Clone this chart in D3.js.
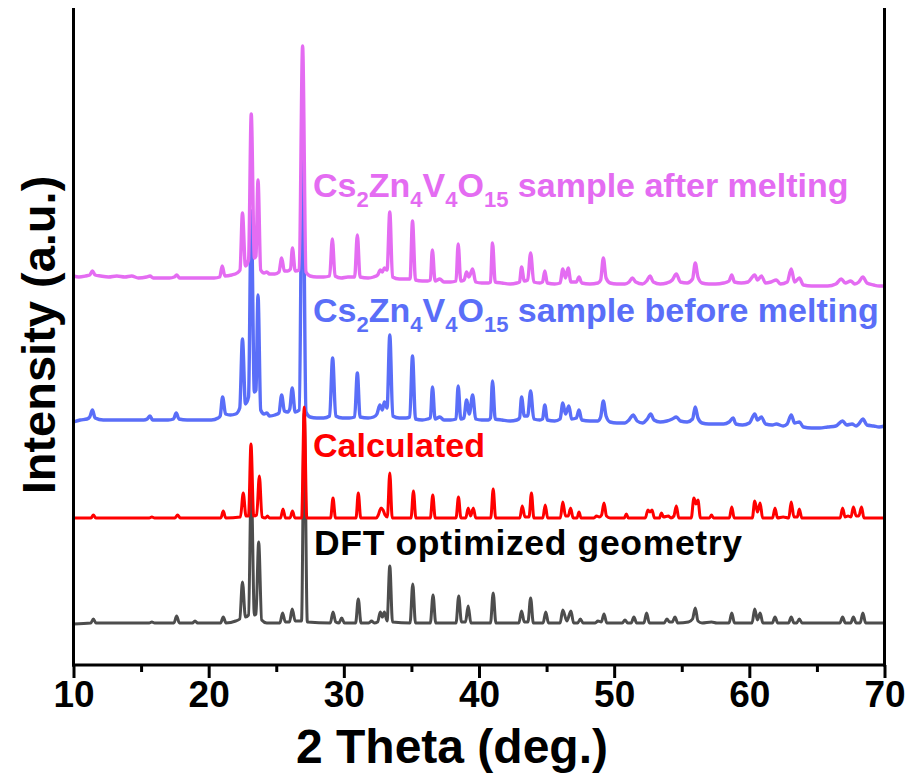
<!DOCTYPE html>
<html><head><meta charset="utf-8">
<script src="https://cdn.jsdelivr.net/npm/d3@7"></script>
<style>body{margin:0;background:#fff} svg{display:block}</style>
</head><body><svg id="c" width="913" height="781"></svg>
<script>
// ---------- data ----------
const xTicks = [10, 20, 30, 40, 50, 60, 70];
const xMinorTicks = [15, 25, 35, 45, 55, 65];
const seriesNames = ["after", "before", "calc", "dft"];
const seriesColors = ["#E46CF2", "#5A6EF8", "#FF0000", "#4D4D4D"];
const seriesOffsets = [385, 243, 147, 42];

const afterMelting = [
[10.0,4],[10.4,3],[10.9,4],[11.2,5],[11.4,9],[11.6,5],[12.0,4],[12.6,3],[13.2,4],[13.8,3],[14.3,4],[14.8,2],[15.4,3],[15.66,4],[15.9,2],[16.5,2],[17.1,2],[17.45,3],[17.63,5],[17.85,2],[18.5,2],[19.2,2],[19.8,2],[20.4,2],[20.82,3],[21.0,14],[21.2,4],[21.7,5],[22.1,7],[22.32,10],[22.5,67],[22.72,14],[22.95,20],[23.15,166],[23.38,22],[23.5,24],[23.65,100],[23.85,10],[24.1,7],[24.3,8],[24.5,6],[24.9,6],[25.2,8],[25.4,22],[25.6,9],[25.85,9],[26.05,11],[26.2,32],[26.4,9],[26.7,10],[26.95,234],[27.2,8],[27.5,4],[28.0,3],[28.5,3],[28.95,4],[29.15,41],[29.35,4],[29.8,2],[30.3,3],[30.8,3],[31.0,45],[31.2,3],[31.8,2],[32.2,3],[32.5,5],[32.7,10],[32.85,8],[33.0,12],[33.2,10],[33.4,68],[33.6,3],[34.1,1],[34.6,1],[34.9,1],[35.08,59],[35.3,0],[35.8,-1],[36.2,-1],[36.4,0],[36.55,30],[36.75,-1],[37.1,1],[37.4,-2],[37.9,-2],[38.3,-1],[38.46,36],[38.65,-1],[38.9,0],[39.08,8],[39.25,3],[39.53,11],[39.75,-2],[40.2,-3],[40.7,-3],[40.85,-2],[41.0,37],[41.2,-2],[41.7,-3],[42.3,-4],[42.8,-3],[43.0,-2],[43.15,13],[43.35,-1],[43.6,0],[43.82,27],[44.05,-2],[44.5,-3],[44.7,-2],[44.87,9],[45.05,-3],[45.6,-4],[46.0,-3],[46.2,11],[46.4,2],[46.6,12],[46.8,-2],[47.2,-2],[47.4,3],[47.6,-3],[48.2,-4],[48.8,-3],[49.0,0],[49.2,22],[49.4,2],[49.7,-3],[50.2,-4],[50.8,-4],[51.1,-2],[51.35,2],[51.6,-2],[52.1,-4],[52.4,-1],[52.65,4],[52.9,-2],[53.4,-4],[53.9,-3],[54.3,0],[54.6,6],[54.9,-2],[55.4,-3],[55.8,1],[56.0,17],[56.2,3],[56.5,-3],[57.0,-4],[57.5,-4],[58.1,-3],[58.5,-1],[58.7,5],[58.9,-2],[59.4,-3],[59.9,-2],[60.4,5],[60.6,0],[60.9,4],[61.2,-3],[61.6,-2],[62.0,0],[62.3,-4],[62.8,-2],[63.1,11],[63.35,-2],[63.7,2],[64.0,-5],[64.6,-6],[65.2,-6],[65.8,-6],[66.4,-4],[66.8,1],[67.1,-3],[67.5,-1],[67.8,-4],[68.1,-2],[68.4,3],[68.7,-3],[69.2,-5],[69.6,-6],[70.0,-6]
];

const beforeMelting = [
[10.0,0],[10.5,2],[11.0,3],[11.2,5],[11.4,12],[11.6,4],[12.2,2],[12.8,2],[13.4,2],[14.0,2],[14.6,2],[15.2,2],[15.45,3],[15.66,6],[15.85,2],[16.4,2],[17.0,2],[17.4,3],[17.6,9],[17.8,3],[18.4,2],[19.0,2],[19.6,2],[20.2,2],[20.7,4],[20.85,6],[21.03,25],[21.25,8],[21.6,7],[22.0,8],[22.3,14],[22.5,83],[22.72,18],[22.95,25],[23.15,211],[23.38,30],[23.5,32],[23.65,127],[23.85,12],[24.1,8],[24.3,9],[24.5,6],[24.9,7],[25.2,9],[25.4,27],[25.6,11],[25.85,10],[26.0,13],[26.18,34],[26.4,10],[26.7,12],[26.95,299],[27.2,10],[27.5,5],[28.0,4],[28.5,4],[28.95,6],[29.17,64],[29.4,6],[29.9,4],[30.4,4],[30.8,5],[31.0,49],[31.2,5],[31.8,4],[32.2,5],[32.45,8],[32.67,17],[32.85,12],[33.0,20],[33.2,14],[33.4,87],[33.62,6],[34.1,4],[34.6,4],[34.88,5],[35.08,66],[35.3,3],[35.8,2],[36.2,3],[36.4,4],[36.56,35],[36.75,3],[37.1,5],[37.4,2],[37.9,2],[38.3,3],[38.46,36],[38.65,3],[38.88,4],[39.08,22],[39.28,8],[39.53,27],[39.75,3],[40.2,2],[40.7,2],[40.85,4],[41.0,41],[41.2,3],[41.7,2],[42.3,1],[42.8,2],[43.0,4],[43.15,25],[43.35,6],[43.6,6],[43.82,31],[44.05,3],[44.5,2],[44.7,3],[44.87,17],[45.05,2],[45.6,1],[46.0,3],[46.2,19],[46.4,8],[46.65,16],[46.85,3],[47.2,4],[47.4,12],[47.6,2],[48.2,1],[48.8,1],[49.0,5],[49.2,21],[49.4,6],[49.7,0],[50.2,-1],[50.8,-1],[51.1,2],[51.4,7],[51.7,1],[52.1,-1],[52.45,3],[52.7,8],[52.95,2],[53.4,0],[53.9,1],[54.3,3],[54.6,5],[54.9,1],[55.4,0],[55.8,3],[56.0,15],[56.2,4],[56.5,-1],[57.0,-2],[57.5,-2],[58.1,-2],[58.5,0],[58.8,4],[59.0,-2],[59.5,-3],[60.0,-1],[60.4,8],[60.6,2],[60.9,5],[61.2,-2],[61.7,-3],[62.0,-2],[62.5,-4],[62.8,-2],[63.1,7],[63.35,-1],[63.7,0],[64.0,-5],[64.6,-6],[65.2,-6],[65.8,-5],[66.4,-4],[66.9,1],[67.2,-3],[67.6,-2],[67.9,-4],[68.1,-2],[68.4,3],[68.7,-3],[69.2,-4],[69.6,-5],[70.0,-4]
];

const calculated = [
[10.0,0],[11.3,0],[11.47,3],[11.65,0],[15.6,0],[15.8,1],[16.0,0],[17.5,0],[17.7,3],[17.9,0],[20.9,0],[21.08,7],[21.26,0],[22.35,1],[22.56,25],[22.76,2],[22.95,2],[23.13,74],[23.33,2],[23.55,3],[23.75,42],[23.95,1],[24.2,0],[24.35,2],[24.5,0],[25.32,0],[25.5,9],[25.68,0],[26.02,0],[26.2,7],[26.38,0],[26.88,0],[27.07,111],[27.26,0],[29.02,0],[29.2,20],[29.38,0],[30.9,0],[31.07,25],[31.25,0],[32.4,0],[32.55,3],[32.75,10],[32.9,8],[33.05,3],[33.22,1],[33.4,45],[33.58,0],[34.97,0],[35.15,27],[35.33,0],[36.4,0],[36.58,23],[36.76,0],[38.3,0],[38.48,21],[38.66,0],[39.02,0],[39.2,10],[39.38,2],[39.58,10],[39.76,0],[40.87,0],[41.05,29],[41.23,0],[43.02,0],[43.2,12],[43.4,1],[43.7,1],[43.88,25],[44.06,0],[44.72,0],[44.9,13],[45.08,0],[46.02,0],[46.2,16],[46.4,2],[46.6,2],[46.78,10],[46.96,0],[47.25,0],[47.4,6],[47.55,0],[48.5,0],[48.7,2],[48.9,1],[49.07,3],[49.25,15],[49.43,2],[49.7,0],[50.75,0],[50.9,4],[51.05,0],[52.3,0],[52.5,8],[52.65,6],[52.8,8],[52.98,0],[53.35,0],[53.5,5],[53.65,1],[54.0,2],[54.2,0],[54.42,2],[54.6,12],[54.78,0],[55.7,0],[55.9,20],[56.05,14],[56.2,18],[56.38,0],[57.05,0],[57.2,3],[57.35,0],[58.52,0],[58.7,11],[58.88,0],[60.22,0],[60.4,17],[60.6,6],[60.8,15],[60.98,0],[61.72,0],[61.9,10],[62.08,0],[62.5,1],[62.92,0],[63.1,16],[63.3,1],[63.55,1],[63.7,9],[63.88,0],[66.72,0],[66.9,10],[67.08,1],[67.3,2],[67.52,1],[67.7,11],[67.9,2],[68.1,2],[68.3,11],[68.48,0],[70.0,0]
];

const dftOptimized = [
[10.0,-1],[11.28,0],[11.47,4],[11.66,0],[15.6,0],[15.8,1],[16.0,0],[17.43,0],[17.63,7],[17.83,0],[18.8,0],[18.99,2],[19.18,0],[20.88,0],[21.08,6],[21.28,0],[22.0,2],[22.3,4],[22.5,41],[22.72,6],[22.95,8],[23.15,140],[23.38,8],[23.5,9],[23.7,81],[23.92,3],[24.3,0],[25.27,0],[25.47,10],[25.67,1],[25.98,1],[26.18,14],[26.4,2],[26.87,2],[27.07,210],[27.3,1],[29.0,0],[29.2,11],[29.4,1],[29.64,0],[29.84,5],[30.04,0],[30.87,0],[31.07,24],[31.27,0],[31.85,0],[32.05,2],[32.25,0],[32.5,1],[32.7,11],[32.85,6],[33.0,11],[33.2,2],[33.4,57],[33.6,1],[34.9,0],[35.1,39],[35.3,0],[36.4,0],[36.6,28],[36.8,0],[38.3,0],[38.5,27],[38.7,1],[39.0,1],[39.2,17],[39.4,0],[40.85,0],[41.05,30],[41.25,0],[42.95,0],[43.15,12],[43.35,1],[43.62,1],[43.82,25],[44.02,0],[44.74,0],[44.94,11],[45.14,0],[46.0,0],[46.2,13],[46.5,2],[46.8,12],[47.0,0],[47.3,0],[47.5,4],[47.7,0],[48.6,0],[48.8,2],[49.05,1],[49.25,9],[49.45,0],[50.6,0],[50.8,3],[51.0,0],[51.26,0],[51.46,6],[51.66,0],[52.2,0],[52.4,10],[52.6,0],[53.7,0],[53.9,4],[54.1,1],[54.3,1],[54.5,6],[54.7,0],[55.5,1],[55.8,4],[56.0,15],[56.2,2],[56.5,0],[57.2,1],[57.6,0],[58.5,0],[58.7,10],[58.9,0],[60.2,0],[60.4,14],[60.6,3],[60.8,10],[61.0,0],[61.7,0],[61.9,6],[62.1,0],[62.9,0],[63.1,6],[63.3,0],[63.5,0],[63.7,4],[63.9,0],[66.7,0],[66.9,6],[67.1,0],[67.5,0],[67.7,6],[67.9,0],[68.2,0],[68.4,10],[68.6,0],[70.0,0]
];

const seriesData = [afterMelting, beforeMelting, calculated, dftOptimized];
const drawOrder = [1, 0, 3, 2];

const xTitle = "2 Theta (deg.)";
const yTitle = "Intensity (a.u.)";
const formulaParts = [["Cs",0],["2",1],["Zn",0],["4",1],["V",0],["4",1],["O",0],["15",1]];
const labelTexts = [" sample after melting", " sample before melting", "Calculated", "DFT optimized geometry"];

// ---------- layout ----------
const svg = d3.select("#c");
const L = 73.5, R = 884.5, B = 665, T = 10;
const x = d3.scaleLinear().domain([10, 70]).range([L, R]);
const y = d3.scaleLinear().domain([0, 655]).range([B, T]);

const line = d3.line().x(d => x(d[0])).y(d => y(d[1])).curve(d3.curveMonotoneX);

drawOrder.forEach(i => {
  const off = seriesOffsets[i];
  svg.append("path")
    .datum(seriesData[i].map(d => [d[0], d[1] + off]))
    .attr("fill", "none")
    .attr("stroke", seriesColors[i])
    .attr("stroke-width", i < 2 ? 3.4 : 3)
    .attr("stroke-linejoin", "round")
    .attr("d", line);
});

// axes frame
const axisG = svg.append("g");
axisG.append("line").attr("x1", L).attr("x2", L).attr("y1", 8).attr("y2", B + 1.5)
  .attr("stroke", "#000").attr("stroke-width", 3);
axisG.append("line").attr("x1", R).attr("x2", R).attr("y1", 8).attr("y2", B + 1.5)
  .attr("stroke", "#000").attr("stroke-width", 3);

const axisFont = "'Liberation Sans',Arial,sans-serif";
const xAxis = d3.axisBottom(x).tickValues(xTicks).tickSize(13).tickPadding(3).tickFormat(d3.format("d"));
const gx = svg.append("g").attr("transform", `translate(0,${B})`).call(xAxis);
gx.select(".domain").attr("stroke-width", 3).attr("d", `M${L - 1.5},0H${R + 1.5}`);
gx.selectAll(".tick line").attr("stroke-width", 3);
gx.selectAll(".tick text")
  .attr("font-family", axisFont)
  .attr("font-weight", "bold").attr("font-size", 37).attr("fill", "#000");

const xMinorAxis = d3.axisBottom(x).tickValues(xMinorTicks).tickSize(7).tickFormat("");
const gm = svg.append("g").attr("transform", `translate(0,${B})`).call(xMinorAxis);
gm.select(".domain").remove();
gm.selectAll(".tick line").attr("stroke-width", 3);

// axis titles
svg.append("text").text(xTitle)
  .attr("x", 452).attr("y", 763).attr("text-anchor", "middle")
  .attr("font-family", axisFont)
  .attr("font-weight", "bold").attr("font-size", 48);

svg.append("text").text(yTitle)
  .attr("transform", "translate(55,335) rotate(-90)").attr("text-anchor", "middle")
  .attr("font-family", axisFont)
  .attr("font-weight", "bold").attr("font-size", 47);

// series labels
const labelPos = [[313, 197], [313, 322], [313, 457], [314, 555]];
labelTexts.forEach((t, i) => {
  const txt = svg.append("text").attr("x", labelPos[i][0]).attr("y", labelPos[i][1])
    .attr("font-family", axisFont).attr("font-weight", "bold").attr("font-size", 34)
    .attr("fill", i === 3 ? "#000" : seriesColors[i]);
  if (i < 2) {
    let prevSub = 0;
    formulaParts.forEach(([s, sub]) => {
      txt.append("tspan").text(s)
        .attr("font-size", sub ? 22 : 34)
        .attr("dy", sub && !prevSub ? 10 : (!sub && prevSub ? -10 : 0));
      prevSub = sub;
    });
    txt.append("tspan").text(t).attr("dy", -10);
  } else {
    txt.text(t);
    if (i === 3) txt.attr("font-size", 35.5).attr("textLength", 428).attr("lengthAdjust", "spacing");
  }
});
</script>
</body></html>
